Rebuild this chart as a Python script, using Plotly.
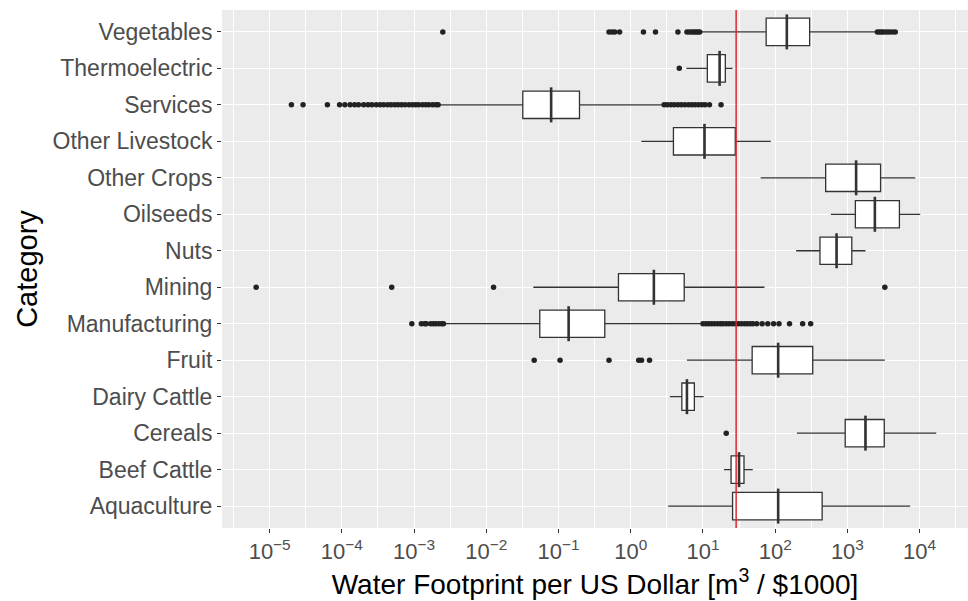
import plotly.graph_objects as go

# Water footprint per US dollar by category (m^3 per $1000), summary statistics
categories = ["Aquaculture", "Beef Cattle", "Cereals", "Dairy Cattle", "Fruit",
              "Manufacturing", "Mining", "Nuts", "Oilseeds", "Other Crops",
              "Other Livestock", "Services", "Thermoelectric", "Vegetables"]

lower_whisker = [3.3, 19.5, 200, 3.47, 6.0, 2.6e-3, 0.0447, 195, 590, 63, 1.4, 2.2e-3, 5.9, 9.5]
q1_values = [25.7, 24.5, 933, 5.1, 48, 0.055, 0.676, 417, 1290, 500, 3.9, 0.032, 11.5, 75]
median_values = [110, 31.6, 1780, 6.0, 110, 0.138, 2.09, 708, 2400, 1320, 10.5, 0.079, 17, 145]
q3_values = [447, 37, 3240, 7.6, 331, 0.437, 5.5, 1150, 5250, 2880, 28, 0.195, 20.4, 300]
upper_whisker = [7400, 49, 17000, 10.2, 3300, 9.3, 71, 1780, 10200, 8700, 87, 2.8, 25.7, 2500]

# Outlying observations
out_cereals = [21]
out_fruit = [0.046, 0.105, 0.5, 1.29, 1.41, 1.82]
out_manufacturing = [9.3e-4, 1.26e-3, 1.4e-3, 1.48e-3, 1.7e-3, 1.85e-3, 2.0e-3, 2.2e-3, 2.4e-3, 2.55e-3,
                     10, 11, 12, 13.2, 14.5, 16, 17.5, 19, 21, 23, 25.5, 28, 31, 34, 37.5, 41, 45, 49,
                     55.6, 66, 79, 95, 113, 158, 240, 310]
out_mining = [6.5e-6, 4.9e-4, 0.0126, 3300]
out_services = [2.0e-5, 2.9e-5, 6.3e-5, 9.3e-5, 1.1e-4, 1.3e-4, 1.5e-4, 1.7e-4,
                2.0e-4, 2.3e-4, 2.6e-4, 3.0e-4, 3.4e-4, 3.8e-4, 4.3e-4, 4.8e-4, 5.4e-4, 6.0e-4,
                6.7e-4, 7.5e-4, 8.5e-4, 9.5e-4, 1.05e-3, 1.15e-3, 1.3e-3, 1.45e-3, 1.6e-3, 1.8e-3,
                2.0e-3, 2.15e-3,
                2.9, 3.2, 3.6, 4.0, 4.5, 5.0, 5.6, 6.3, 7.0, 7.8, 8.7, 9.7, 10.7, 12.3, 17.8]
out_thermoelectric = [4.7]
out_vegetables = [0.0025, 0.5, 0.55, 0.6, 0.7, 1.5, 2.2, 4.5, 6, 6.5, 7, 7.5, 8, 8.5, 9,
                  2600, 2800, 3000, 3200, 3500, 3800, 4200, 4600]

reference_value = 28.8  # m^3/$1000

tick_values = [1e-5, 1e-4, 1e-3, 1e-2, 1e-1, 1e0, 1e1, 1e2, 1e3, 1e4]
tick_labels = ["10<sup>−5</sup>", "10<sup>−4</sup>", "10<sup>−3</sup>", "10<sup>−2</sup>",
               "10<sup>−1</sup>", "10<sup>0</sup>", "10<sup>1</sup>", "10<sup>2</sup>",
               "10<sup>3</sup>", "10<sup>4</sup>"]
minor_tick_values = [10 ** (k + 0.5) for k in range(-6, 5)]

outliers = {
    "Cereals": out_cereals,
    "Fruit": out_fruit,
    "Manufacturing": out_manufacturing,
    "Mining": out_mining,
    "Services": out_services,
    "Thermoelectric": out_thermoelectric,
    "Vegetables": out_vegetables,
}

fig = go.Figure()

fig.add_trace(go.Box(
    orientation="h",
    y=categories,
    q1=q1_values,
    median=median_values,
    q3=q3_values,
    lowerfence=lower_whisker,
    upperfence=upper_whisker,
    boxpoints=False,
    fillcolor="white",
    line=dict(color="#333333", width=1.3),
    width=0.75,
    whiskerwidth=0,
    showlegend=False,
))

# heavier median bar
fig.add_trace(go.Scatter(
    x=median_values,
    y=categories,
    mode="markers",
    marker=dict(symbol="line-ns", size=25, line=dict(color="#333333", width=2.6)),
    showlegend=False,
    hoverinfo="skip",
))

ox, oy = [], []
for cat, vals in outliers.items():
    ox.extend(vals)
    oy.extend([cat] * len(vals))
fig.add_trace(go.Scatter(
    x=ox, y=oy, mode="markers",
    marker=dict(color="#222222", size=5.5),
    showlegend=False,
))

fig.add_shape(type="line", xref="x", yref="paper",
              x0=reference_value, x1=reference_value, y0=0, y1=1,
              line=dict(color="#E0282E", width=1.5), layer="above")

fig.update_layout(
    width=968, height=601,
    margin=dict(l=222, r=0, t=10, b=73),
    paper_bgcolor="white",
    plot_bgcolor="#EBEBEB",
    font=dict(family="Liberation Sans, Arial, sans-serif"),
    xaxis=dict(
        type="log",
        range=[-5.66, 4.67],
        tickvals=tick_values,
        ticktext=tick_labels,
        tickfont=dict(size=22, color="#4D4D4D"),
        ticks="outside", ticklen=4, tickwidth=1.2, tickcolor="#333333",
        showgrid=True, gridcolor="white", gridwidth=1.2,
        minor=dict(tickvals=minor_tick_values, showgrid=True, gridcolor="white",
                   gridwidth=0.6, ticklen=0),
        zeroline=False, showline=False,
        title=dict(text="Water Footprint per US Dollar [m<sup>3</sup> / $1000]",
                   font=dict(size=28, color="black"), standoff=4),
        automargin=False,
    ),
    yaxis=dict(
        type="category",
        categoryorder="array",
        categoryarray=categories,
        range=[-0.6, 13.6],
        tickfont=dict(size=23, color="#4D4D4D"),
        ticks="outside", ticklen=4, tickwidth=1.2, tickcolor="#333333",
        showgrid=True, gridcolor="white", gridwidth=1.2,
        zeroline=False, showline=False,
        title=dict(text="Category", font=dict(size=29, color="black"), standoff=6),
        automargin=False,
    ),
)

fig.write_html("out.html")
